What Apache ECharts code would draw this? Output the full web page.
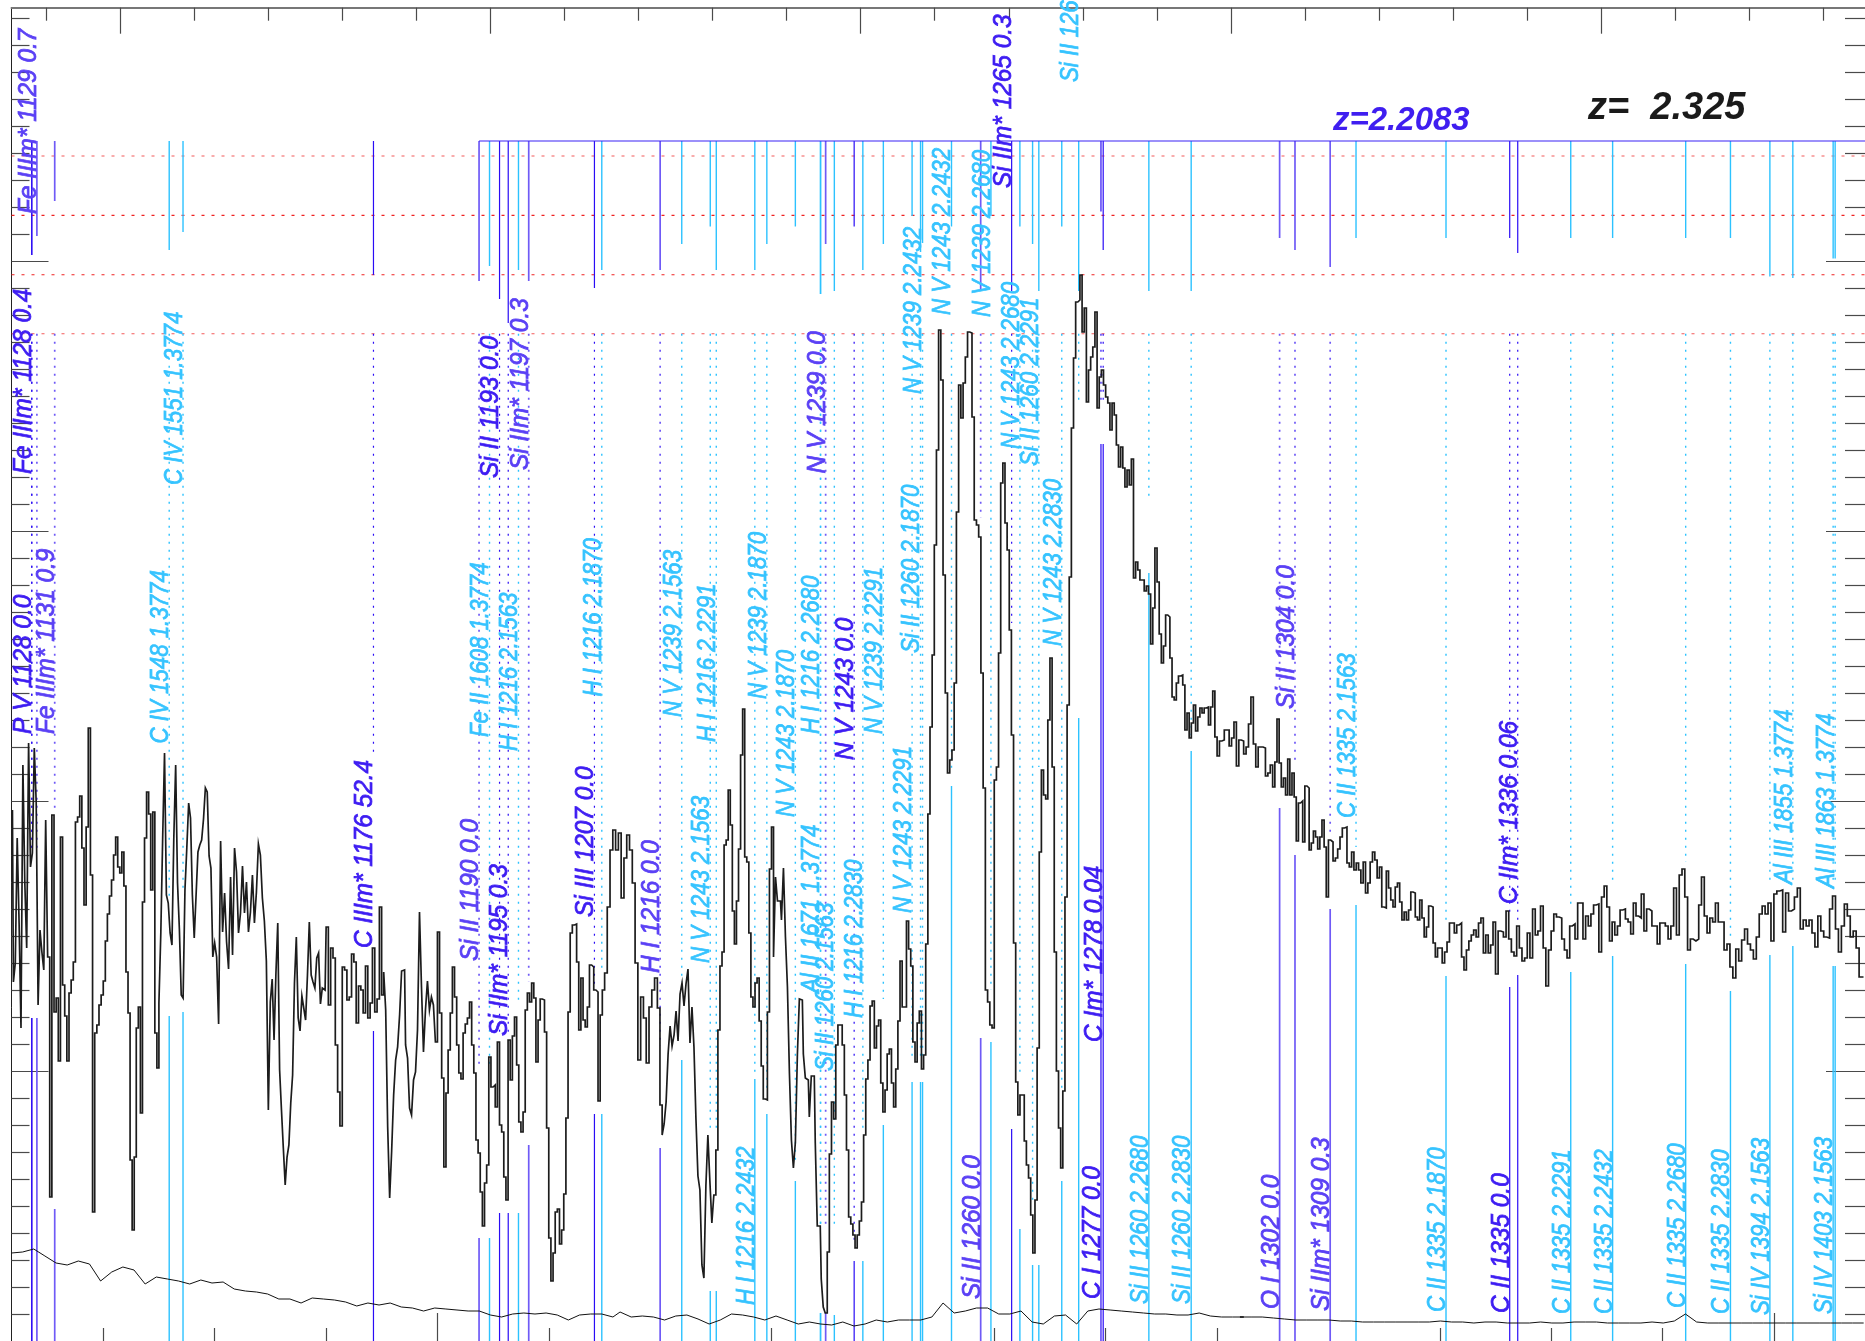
<!DOCTYPE html>
<html><head><meta charset="utf-8">
<style>html,body{margin:0;padding:0;background:#fff}#c{width:1865px;height:1341px}</style>
<script src="https://cdn.jsdelivr.net/npm/echarts@6/dist/echarts.min.js"></script>
</head><body><div id="c"></div>
<script>
// Wavelength range (observed, Angstrom) and flux range (relative units, ticks carry no labels)
const waveMin = 3608.8, waveMax = 4440.9, fluxMax = 1333.3;
const qsoRedshift = 2.325;

// Axis ticks
const obsMinorTicks = [3650,3700,3750,3850,3950,4050,4100,4150,4250,4300,4350];
const obsMajorTicks = [3800,4400];
const restMinorTicks = [1090,1110,1120,1130,1140,1160,1170,1180,1190,1210,1220,1230,1240,1260,1270,1280,1290,1310,1320,1330];
const restMajorTicks = [1100,1150,1200,1250,1300];
const fluxMajorTicks = [270,540,810,1080];
const fluxMinorTicks = [27,54,81,108,135,162,189,216,243,297,324,351,378,405,432,459,486,513,567,594,621,648,675,702,729,756,783,837,864,891,918,945,972,999,1026,1053,1107,1134,1161,1188,1215,1242,1269,1296,1323];

// Reference levels
const dashedLevels = [1185,1125.6,1066.2,1007.2];
const systemBarLevel = 1200;
const systemBarStart = 3818.7;

// Spectrum: wavelength band edges, and the flux bins read inside each band
const fluxBandEdges = [3608.8,3625,3650,3675,3700,3725,3750,3775,3800,3825,3850,3875,3900,3925,3950,3975,4000,4025,4050,4075,4100,4125,4150,4175,4200,4225,4250,4275,4300,4325,4350,4375,4400,4425,4440.9];
const fluxBands = [
[531,359,378,503,418,313,576,459,393,598,474,488,593,539,336,411,389,371,521],
[384,144,526,329,343,280,504,356,325,280,348,361,379,519,524,545,493,436,514,613,466,129,308,316,336,346],
[360,400,427,445,461,486,504,474,468,489,455,369,328,181,111,184,313,334,228,439,503,549,527,451,529,308,273],
[338,408,503,588,446,438,408,396,503,576,458,412,346,343,451,493,538,523,446,403,446,489,496,501,522,553,549,485,473,384],
[398,384,317,500,409,448,399,372,464,386,493,469,408,428,475,428,459,409,429,466,418,449,497,486,443,420,380,231],
[339,362,301,367,418,271,231,193,156,184,196,238,266,358,404,323,310,345,333,321,366,419,366,359,353,383,388,337,353,351],
[414,336,393,383,296,249,215,374,371,341,344,387,379,318,355,351,328,375,323,338,393,329,342,434],
[346,369,331,214,143,190,246,281,294,326,370,371,296,283,233,226,261,269,311,429,354,289,331,360,331,344,336,299],
[409,328,263,174,248,291,328,374,344,296,268,262,308,317,323,339,296,268,201,188,149,115,158,176,284,254],
[256,234,299,216,209,164,141,301,261,305,324,276,219,209,229,331,348,339,358,343,279,321,342,341,309,213],
[103,60,88,129,132,97,111,147,223,329,408,416,417,379,311,363,321,314,334,376,374,351,349,240,326,351],
[368,434,491,511,491,508,443,483,506,491,458,378,281,344,323,278,334,351,363,333],
[236,206,217,239,287,315,295,306,330,300,347,358,335,357,372,298,334,294,222,165,151,76,63,155,206,160,118,146],
[191,311,375,389,496,501,551,516,430,397,440,492,586,632,484,479,408,344,334,358,363,320,275,242,241,329,472],
[514,384,464,440,440,421,473,404,354,268,201,173,199,286,342,341,287,263,261,224,265,265,198,115,115,62,34,28],
[89,187,239,222,296,316,316,296,246,191,124,117,106,93,106,120,139,206,262,281,335,340,293,315,321,258],
[229,251,287,292,258,234,272,320,380,334,334,420,392,375,299,279,318,330,272,286,397,527,614,686,796,891],
[1011,961,766,648,568,581,591,658,829,956,923,958,984,1009,1008,924,821,816,804,668,553,351,339,316,313],
[561,574,688,858,878,818,791,711,606,398,259,226,246,246,200,176,163,126,88,141,293,489,571,546,542,621],
[683,574,389,270,213,173,250,444,636,764,913,983,1039,1041,1066,1009,1033,939,971,984,994,1029,933,964,971,956],
[944,938,911,938,926,896,874,894,873,854,871,856,882,763,779,771,761,761,750,755,747,697,733,793,759,707],
[678,695,726,724,683,644,641,658,665,666,656,611,628,603,618,636,610,624,633,628,633,634,616,634,650,604],
[585,600,601,611,611,595,603,619,575,601,600,587,594,617,644,597,574,594,594,593,565,568,576],
[554,579,622,578,554,563,546,582,546,568,544,500,538,540,499,555,553,491,498,510,504,492,504,521,494,444],
[501,499,480,483,492,504,513,514,478,474,489,471,478,471,458,479,448,458,479,489,481,463,474,434],
[433,470,453,441,434,454,458,439,421,429,421,431,449,448,424,421,441,423,404,414,435,434,398,384,393],
[393,378,389,399,418,418,408,416,418,384,371,391,400,406,411,404,418,423,388,406,388,396,419],
[367,410,409,404,430,402,389,385,415,393,380,383,408,383,432,406,410,435,393,355,391],
[410,427,424,423,402,391,383,415,417,402,438,438,402,425,415,427,436,437,389,444,455],
[434,400,419,406,415,431,432,422,419,407,438,425,423,447,410,432,430,415,415,397,418],
[418,415,402,415,453,406,466,472,444,391,402,400,402,436,464,425,408,423,419,438],
[419,419,391,397,374,363,392,380,401,412,397,391,382,404,427,435,427,438,400],
[447,450,451,409,448,430,432,444,453,412,421,415,421,408,394,425,410,404,403],
[432,445,412,389,415,437,425,404,410,393,364,364]
];

// Error spectrum: three stretches sampled every errStep Angstrom
const errStep = 5;
const errStarts = [3608.8,3882,4160.3];
const errBlue = [88,89,92,85,78,76,80,77,60,69,74,71,57,64,62,60,57,61,58,59,52,50,49,47,42,42,38,43,42,41,39,35,38,36,38,34,33,30,33,32,31,30,30,26,24,27,28,27,28,26,21,26,27,27,24];
const errMid = [29,24,25,24,21,25,26,22,17,21,27,26,24,21,25,21,17,19,17,16,19,15,17,21,19,21,21,21,24,38,28,30,33,33,27,27,30,19,17,25,26,17,30,32,31,30,29,28,27,27,26,26,28,25,24,24,24];
const errRed = [24,24,24,23,22,21,21,21,21,20,20,19,19,19,19,19,19,19,20,19,19,18,19,19,18,18,18,19,18,18,19,19,19,18,18,18,18,19,18,20,27,19,18,18,18,18,18,18,18,18,18,18,18,18,18,18,18];

// Absorption line identifications
const lineNames = ["P V 1128 0.0","Fe IIIm* 1128 0.4","Fe IIIm* 1129 0.7","Fe IIIm* 1131 0.9","C IV 1548 1.3774","C IV 1551 1.3774","C IIIm* 1176 52.4","Si II 1190 0.0","Fe II 1608 1.3774","Si II 1193 0.0","Si IIm* 1195 0.3","H I 1216 2.1563","Si IIm* 1197 0.3","Si III 1207 0.0","H I 1216 2.1870","H I 1216 0.0","N V 1239 2.1563","N V 1243 2.1563","H I 1216 2.2291","H I 1216 2.2432","N V 1239 2.1870","N V 1243 2.1870","H I 1216 2.2680","Al II 1671 1.3774","N V 1239 0.0","Si II 1260 2.1563","N V 1243 0.0","H I 1216 2.2830","N V 1239 2.2291","N V 1243 2.2291","Si II 1260 2.1870","N V 1239 2.2432","N V 1243 2.2432","Si II 1260 0.0","N V 1239 2.2680","Si IIm* 1265 0.3","N V 1243 2.2680","","Si II 1260 2.2291","N V 1243 2.2830","Si II 1260 2.2432","C I 1277 0.0","C Im* 1278 0.04","Si II 1260 2.2680","Si II 1260 2.2830","O I 1302 0.0","Si II 1304 0.0","Si IIm* 1309 0.3","C II 1335 2.1563","C II 1335 2.1870","C II 1335 0.0","C IIm* 1336 0.06","C II 1335 2.2291","C II 1335 2.2432","C II 1335 2.2680","C II 1335 2.2830","Si IV 1394 2.1563","Al III 1855 1.3774","Si IV 1403 2.1563","Al III 1863 1.3774"];
const lineWaves = [3617.9,3617.9,3620.2,3628.2,3679.6,3685.8,3771.3,3818.7,3823.4,3827.9,3831.8,3836.4,3841,3870.5,3873.8,3900,3909.7,3922.5,3925.2,3942.5,3947.9,3960.7,3972,3972,3974.3,3978.2,3987.1,3991,4000.2,4013.1,4016.9,4017.8,4030.8,4043.9,4048.5,4057.8,4061.5,4067.2,4070,4080.3,4087.9,4097.9,4098.9,4119.4,4138.4,4178.1,4185,4200.8,4212.4,4252.8,4281.4,4285,4308.8,4327.6,4360.4,4380.5,4398.2,4408.5,4426.6,4427.5];
const lineStrengthFlux = [1086,1086,1105,1140,1091,1109,1066,1060,1075,1042,1018,1071,1060,1053,1071,1071,1097,1114.5,1071,1071,1097,1114.5,1047,1047,1097,1050,1114.5,1071,1097,1125,1089,1098,1114.5,1050,1125,1050,1114.5,1097,1050,1114.5,1050,1129.5,1091,1050,1050,1103,1091,1074,1103,1103,1103,1088,1103,1103,1103,1103,1064.5,1063,1082.5,1082.5];
const lineDotEndFlux = [491,491,491,528,445,453,586,274,274,304,304,341,359,351,372,295,359,211,210,269,251,180,116,116,116,116,101,211,342,281,281,281,571,823,351,718,268,141,574,251,941,936,936,841,606,641,581,507,494,419,428,419,432,457,479,402,457,457,461,461];
const lineLowStartFlux = [323,323,323,132,325,329,310,103,103,128,128,128,196,227,227,193,281,50,50,262,227,160,28,28,28,26,80,80,216,259,259,259,555,303,299,212,112,76,76,160,623,897,897,768,590,533,486,432,436,365,354,366,369,385,377,350,386,395,375,375];
const labelBaseFlux = [607,867,1127,607,597.5,856,393,380,604,863,305,590,871,424,644.5,368,624,378,599,36,642,524,607,348,867.5,270,581,323,607,428,688,947,1026,42,1024,1153,892,0,875,695,1259,42,299,37,37,32,632,30,523,29,28,437,27,27,33,27,26,457,27,453];
// Absorption system of each line: b / p = the z=2.2083 system (strong / weak), c = intervening system
const lineSystems = ("bbppccbpcbbcpbcp"+"cccccccc"+"p"+"c"+"b"+"cccccc"+"p"+"c"+"b"+"ccccc"+"bb"+"cc"+"ppp"+"cc"+"bb"+"cccccccc").split('');
</script>
<script>
const toneColor = {b:'#2a0cf5', p:'#6f5af6', c:'#2cc2ff'};
const toneText  = {b:'#3d1cf2', p:'#5a40f5', c:'#35c3ff'};
const toneWidth = {b:1.2, p:1.7, c:1.4};
const toneStretch = {b:1.03, p:1.03, c:0.94};

// Flux points
const fluxPoints = [];
fluxBands.forEach((band, k) => {
  const a = fluxBandEdges[k], w = (fluxBandEdges[k+1] - a) / band.length;
  band.forEach((v, j) => fluxPoints.push([a + (j + 0.5) * w, v]));
});
const errPoints = [];
[errBlue, errMid, errRed].forEach((arr, k) => arr.forEach((v, j) => errPoints.push([errStarts[k] + j * errStep, v])));

const sameX = {min: waveMin, max: waveMax};
const sameRest = {min: waveMin / (1 + qsoRedshift), max: waveMax / (1 + qsoRedshift)};
const tickColor = '#4a4a4a';
function hAxis(range, pos, vals, len, line) {
  return Object.assign({type:'value', position:pos, silent:true, splitLine:{show:false},
    axisLabel:{show:false},
    axisLine:{show:!!line, onZero:false, lineStyle:{color:'#777', width:2}},
    axisTick:{show:true, inside:true, length:len, customValues:vals, lineStyle:{color:tickColor, width:1.2}}}, range);
}
function vAxis(pos, vals, len, line) {
  return {type:'value', position:pos, min:0, max:fluxMax, silent:true, splitLine:{show:false},
    axisLabel:{show:false},
    axisLine:{show:!!line, onZero:false, lineStyle:{color:'#222', width:1}},
    axisTick:{show:true, inside:true, length:len, customValues:vals, lineStyle:{color:tickColor, width:1.2}}};
}

function segmentSeries(rows, dash, z) {
  return {type:'custom', coordinateSystem:'cartesian2d', xAxisIndex:0, yAxisIndex:0, silent:true, z:z, animation:false,
    encode:{x:0, y:[1,2]}, data:rows,
    renderItem:(p, api) => {
      const s = api.coord([api.value(0), api.value(1)]), e = api.coord([api.value(0), api.value(2)]);
      const t = rows[p.dataIndex][3];
      return {type:'line', shape:{x1:s[0], y1:s[1], x2:e[0], y2:e[1]},
        style:{stroke:toneColor[t], lineWidth:toneWidth[t], lineDash:dash || null, opacity:1}};
    }};
}
const topRows = lineWaves.map((w,i)=>[w, systemBarLevel, lineStrengthFlux[i], lineSystems[i]]);
const dotRows = lineWaves.map((w,i)=>[w, dashedLevels[3], lineDotEndFlux[i], lineSystems[i]]);
const lowRows = lineWaves.map((w,i)=>[w, lineLowStartFlux[i], 0, lineSystems[i]]);
const labelRows = lineNames.map((n,i)=>[lineWaves[i], labelBaseFlux[i], n, lineSystems[i]]).filter(r=>r[2]);

const dashedSeries = dashedLevels.map((lv,i)=>({
  type:'line', xAxisIndex:0, yAxisIndex:0, silent:true, showSymbol:false, animation:false, z:1,
  data:[[waveMin,lv],[waveMax,lv]],
  lineStyle:{color:'#f02020', width:1.1, type:[3,7], opacity:[0.75,1,1,0.75][i]}
}));

const option = {
  animation:false, backgroundColor:'#fff',
  grid:{left:11.5, right:0, top:7.7, bottom:0, containLabel:false},
  xAxis:[hAxis(sameX,'bottom',obsMinorTicks,13), hAxis(sameX,'bottom',obsMajorTicks,28),
         hAxis(sameRest,'top',restMinorTicks,13,true), hAxis(sameRest,'top',restMajorTicks,26)],
  yAxis:[vAxis('left',fluxMinorTicks,18,true), vAxis('left',fluxMajorTicks,37), vAxis('right',fluxMinorTicks,20), vAxis('right',fluxMajorTicks,39)],
  series:[
    ...dashedSeries,
    {type:'line', xAxisIndex:0, yAxisIndex:0, silent:true, showSymbol:false, animation:false, z:2,
     data:[[systemBarStart,systemBarLevel],[waveMax,systemBarLevel]], lineStyle:{color:'#3a22f5', width:1.1}},
    segmentSeries(topRows,null,2),
    segmentSeries(dotRows,[2,6],2),
    segmentSeries(lowRows,null,2),
    {type:'line', name:'Flux', xAxisIndex:0, yAxisIndex:0, silent:true, showSymbol:false, animation:false, z:3,
     step:'middle', data:fluxPoints, lineStyle:{color:'#1c1c1c', width:1.7, join:'miter'}},
    {type:'line', name:'Error', xAxisIndex:0, yAxisIndex:0, silent:true, showSymbol:false, animation:false, z:3,
     data:errPoints, lineStyle:{color:'#111', width:1}},
    {type:'custom', coordinateSystem:'cartesian2d', xAxisIndex:0, yAxisIndex:0, silent:true, z:4, animation:false, clip:false,
     encode:{x:0,y:1}, data:labelRows.map(r=>[r[0],r[1]]),
     renderItem:(p, api) => {
       const c = api.coord([api.value(0), api.value(1)]);
       const r = labelRows[p.dataIndex];
       return {type:'text', x:c[0]+5, y:c[1], rotation:Math.PI/2, scaleX:toneStretch[r[3]], scaleY:1.12,
         style:{text:r[2], fill:toneText[r[3]], stroke:toneText[r[3]], lineWidth:0.7, font:'italic 23.7px "Liberation Sans", Arial, sans-serif', align:'left', verticalAlign:'bottom'}};
     }}
  ],
  graphic:[
    {type:'text', left:1333, top:104, silent:true, style:{text:'z=2.2083', fill:'#3f1ef0', font:'italic bold 33px "Liberation Sans", Arial, sans-serif'}},
    {type:'text', left:1588, top:90, silent:true, style:{text:'z=  2.325', fill:'#1a1a1a', font:'italic bold 38px "Liberation Sans", Arial, sans-serif'}}
  ]
};
const chart = echarts.init(document.getElementById('c'), null, {renderer:'canvas', width:1865, height:1341});
chart.setOption(option);
</script>
</body></html>
